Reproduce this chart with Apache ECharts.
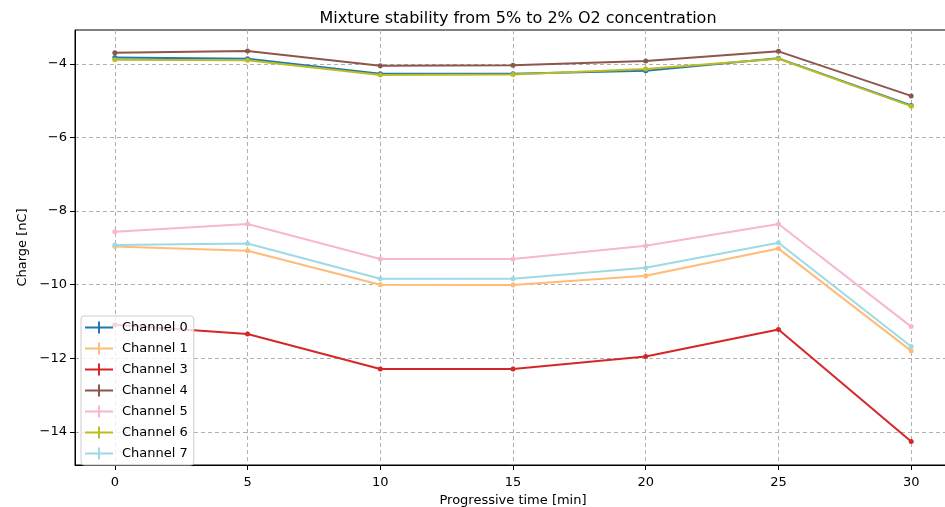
<!DOCTYPE html>
<html>
<head>
<meta charset="utf-8">
<script src="https://cdn.jsdelivr.net/npm/echarts@6/dist/echarts.min.js"></script>
<style>
  html, body { margin: 0; padding: 0; background: #fff; }
  #chart { width: 945px; height: 507px; }
</style>
</head>
<body>
<div id="chart"></div>
<script>
// Progressive time [min]
const times = [0, 5, 10, 15, 20, 25, 30];

// Mean charge per channel [nC]
const channel0 = [-3.83, -3.86, -4.27, -4.27, -4.19, -3.85, -5.13];
const channel1 = [-8.96, -9.08, -10.00, -10.01, -9.76, -9.02, -11.80];
const channel3 = [-11.09, -11.34, -12.29, -12.29, -11.95, -11.22, -14.26];
const channel4 = [-3.70, -3.65, -4.05, -4.04, -3.92, -3.66, -4.87];
const channel5 = [-8.56, -8.35, -9.30, -9.30, -8.94, -8.35, -11.14];
const channel6 = [-3.89, -3.90, -4.30, -4.29, -4.14, -3.86, -5.15];
const channel7 = [-8.92, -8.88, -9.84, -9.84, -9.54, -8.86, -11.68];

const channelNames = ['Channel 0', 'Channel 1', 'Channel 3', 'Channel 4', 'Channel 5', 'Channel 6', 'Channel 7'];
const channelValues = [channel0, channel1, channel3, channel4, channel5, channel6, channel7];
const channelColors = ['#1f77b4', '#ffbb78', '#d62728', '#8c564b', '#f7b6d2', '#bcbd22', '#9edae5'];

// Tick labels
const xTicks = [0, 5, 10, 15, 20, 25, 30];
const yTicks = [-14, -12, -10, -8, -6, -4];

const FONT = 'DejaVu Sans';

// Typographic minus sign for negative tick labels
const fmtTick = v => String(v).replace('-', '\u2212');

// Legend handle: line with a vertical error-bar cap
const legendIcon = 'path://M0,5h28v2h-28z M13,0h2v12h-2z';

const series = channelNames.map((name, i) => ({
  name: name,
  type: 'line',
  data: times.map((t, j) => [t, channelValues[i][j]]),
  symbol: 'circle',
  symbolSize: 5,
  showSymbol: true,
  lineStyle: { width: 2, color: channelColors[i] },
  itemStyle: { color: channelColors[i] },
  emphasis: { disabled: true },
  animation: false,
  z: 2 + i
}));

const chart = echarts.init(document.getElementById('chart'), null, { renderer: 'canvas' });
chart.setOption({
  animation: false,
  backgroundColor: '#ffffff',
  title: {
    text: 'Mixture stability from 5% to 2% O2 concentration',
    left: 513,
    textAlign: 'center',
    top: 6,
    textStyle: { fontFamily: FONT, fontSize: 16, fontWeight: 'normal', color: '#000' }
  },
  grid: {
    left: 75, top: 30, width: 876, height: 435,
    outerBoundsMode: 'none',
    containLabel: false,
    show: true, borderColor: '#000', borderWidth: 1, backgroundColor: 'transparent'
  },
  legend: {
    orient: 'vertical',
    left: 81, top: 316,
    z: 20,
    padding: [5, 6, 5, 4],
    itemGap: 8,
    itemWidth: 28,
    itemHeight: 12,
    icon: legendIcon,
    backgroundColor: 'rgba(255,255,255,0.8)',
    borderColor: '#cccccc',
    borderWidth: 1,
    borderRadius: 3,
    textStyle: { fontFamily: FONT, fontSize: 13, color: '#000', lineHeight: 12, padding: [0, 0, 0, 4] },
    data: channelNames
  },
  xAxis: {
    type: 'value',
    min: -1.5, max: 31.5,
    name: 'Progressive time [min]',
    nameLocation: 'middle',
    nameGap: 23,
    nameTextStyle: { fontFamily: FONT, fontSize: 13, color: '#000' },
    axisLine: { show: true, onZero: false, lineStyle: { color: '#000', width: 1 } },
    axisTick: { show: true, length: 5, customValues: xTicks, lineStyle: { color: '#000' } },
    axisLabel: { customValues: xTicks, margin: 11, fontFamily: FONT, fontSize: 13, color: '#000' },
    splitLine: { show: true, lineStyle: { color: '#b0b0b0', width: 1, type: [4, 3] } }
  },
  yAxis: {
    type: 'value',
    min: -14.9, max: -3.08,
    name: 'Charge [nC]',
    nameLocation: 'middle',
    nameGap: 41,
    nameTextStyle: { fontFamily: FONT, fontSize: 13, color: '#000' },
    axisLine: { show: true, onZero: false, lineStyle: { color: '#000', width: 1 } },
    axisTick: { show: true, length: 5, customValues: yTicks, lineStyle: { color: '#000' } },
    axisLabel: { customValues: yTicks, formatter: fmtTick, margin: 8, fontFamily: FONT, fontSize: 13, color: '#000' },
    splitLine: { show: true, lineStyle: { color: '#b0b0b0', width: 1, type: [4, 3] } }
  },
  series: series
});
</script>
</body>
</html>
